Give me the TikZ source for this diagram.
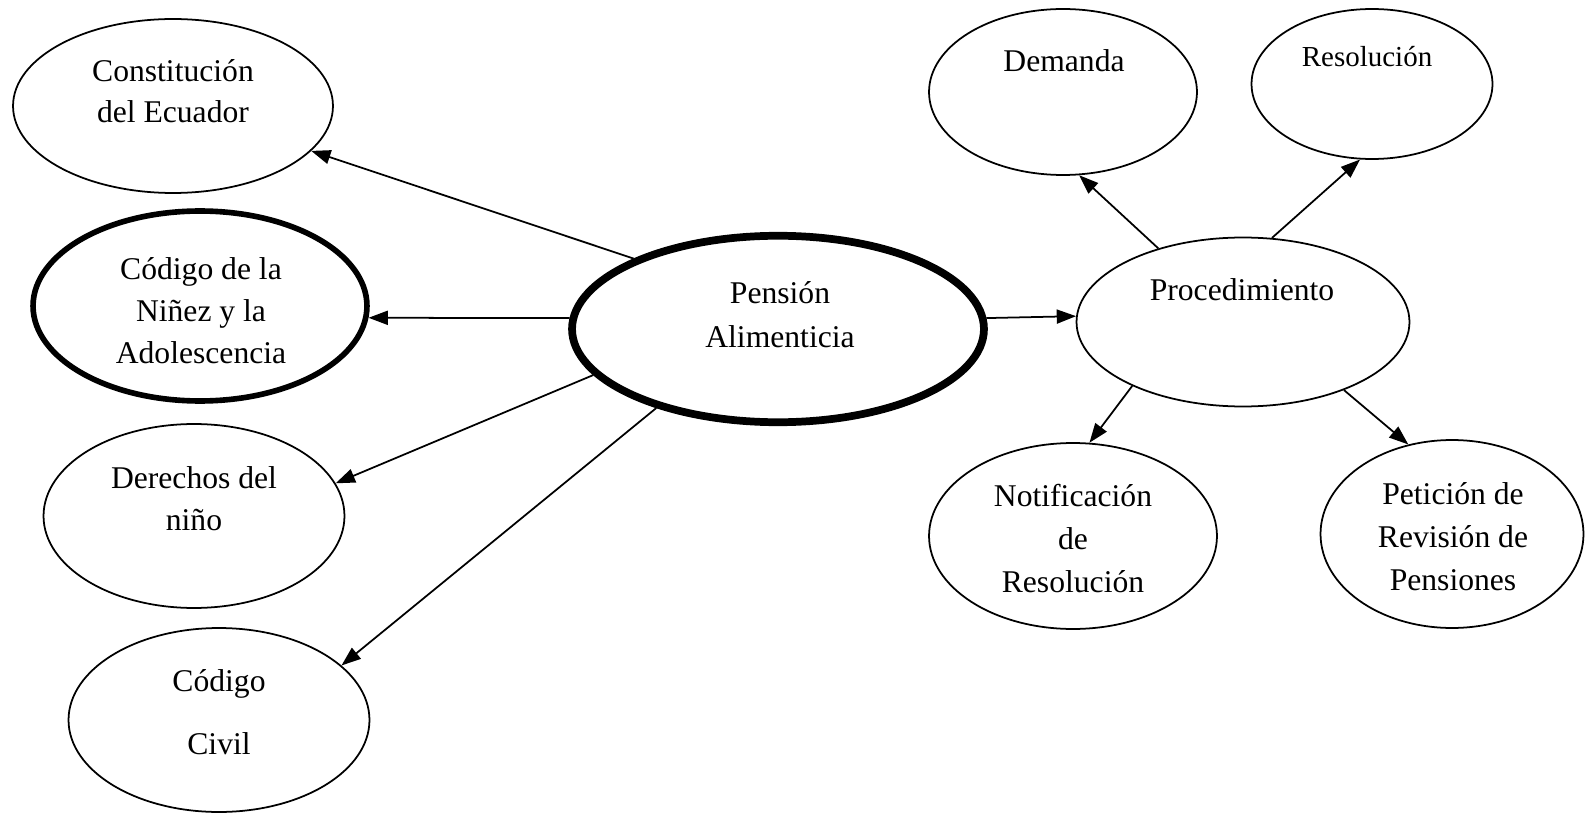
\documentclass[tikz,border=0pt]{standalone}
\usepackage{fontspec}
\setmainfont{Liberation Serif}
\usetikzlibrary{shapes.geometric,arrows.meta}

\begin{document}
\begin{tikzpicture}[x=0.02cm,y=-0.02cm,
                ->,>={Triangle[length=11pt,width=8pt]},line width=1pt,
                bubble/.style={ellipse,draw,inner sep=0pt},
                lbl/.style={align=center,anchor=base,inner sep=0pt,
                            font=\fontsize{18}{23.8}\selectfont}]
\useasboundingbox (0,0) rectangle (1596,814);

% left side
\node[bubble,minimum width=6.4cm,minimum height=3.48cm]   (cons)     at (173,106) {};
\node[bubble,line width=3.2pt,minimum width=6.68cm,minimum height=3.8cm] (ninez) at (200,306) {};
\node[bubble,minimum width=6.02cm,minimum height=3.68cm]  (derechos) at (194,516) {};
\node[bubble,minimum width=6.02cm,minimum height=3.68cm]  (civil)    at (219,720) {};

% centre
\node[bubble,line width=4.4pt,minimum width=8.24cm,minimum height=3.73cm] (pension) at (778,329) {};

% right side
\node[bubble,minimum width=5.36cm,minimum height=3.32cm]  (demanda)  at (1063,92) {};
\node[bubble,minimum width=4.82cm,minimum height=3cm]     (resol)    at (1372,84) {};
\node[bubble,minimum width=6.66cm,minimum height=3.38cm]  (proc)     at (1243,322) {};
\node[bubble,minimum width=5.76cm,minimum height=3.72cm]  (notif)    at (1073,536) {};
\node[bubble,minimum width=5.26cm,minimum height=3.76cm]  (peticion) at (1452,534) {};

% texts (anchored at the last baseline)
\node[lbl] (cons-t)     at (173,123) {Constitución\\del Ecuador};
\node[lbl] (ninez-t)    at (201,363) {Código de la\\Niñez y la\\Adolescencia};
\node[lbl] (derechos-t) at (194,530) {Derechos del\\niño};
\node[lbl] (civil-t)    at (219,754) {Código\\[11.9pt]Civil};
\node[lbl] (pension-t)  at (780,347) {Pensión\\[1.1pt]Alimenticia};
\node[lbl] (demanda-t)  at (1064,72) {Demanda};
\node[lbl,font=\fontsize{16.5}{20}\selectfont] (resol-t) at (1367,67) {Resolución};
\node[lbl] (proc-t)     at (1242,300) {Procedimiento};
\node[lbl] (notif-t)    at (1073,592) {Notificación\\[0.5pt]de\\[0.5pt]Resolución};
\node[lbl] (peticion-t) at (1453,590) {Petición de\\[0.5pt]Revisión de\\[0.5pt]Pensiones};

% connectors
\draw (pension.154) -- (cons.-18);
\draw (pension.177) -- (ninez.-4);
\draw (pension.194) -- (derechos.13);
\draw (pension.213) -- (civil.24);
\draw (pension.3)   -- (proc.178);

\draw (proc.139) -- (demanda.-79);
\draw (proc.71)  -- (resol.-99);
\draw (proc.210) -- (notif.80);
\draw (proc.-34) -- (peticion.116);
\end{tikzpicture}
\end{document}
